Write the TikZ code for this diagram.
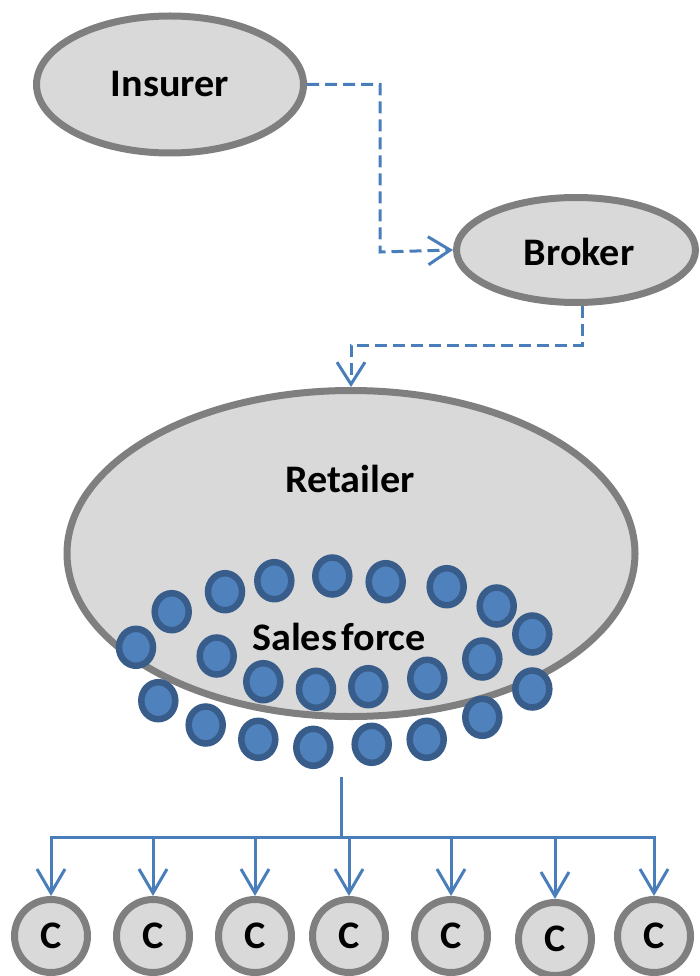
\documentclass[tikz,border=0pt]{standalone}
\usepackage{fontspec}
\setmainfont{Carlito}
\usetikzlibrary{shapes.geometric,arrows.meta}
\definecolor{shapefill}{HTML}{D9D9D9}
\definecolor{shapeline}{HTML}{7F7F7F}
\definecolor{linkblue}{HTML}{4A7EBB}
\definecolor{dotfill}{HTML}{4F81BD}
\definecolor{dotring}{HTML}{385D8A}
\newcommand{\lbl}[1]{\scalebox{1.03}[1]{\fontsize{39}{42}\selectfont\bfseries #1}}
\tikzset{
  party/.style={ellipse, draw=shapeline, fill=shapefill, line width=7pt, inner sep=0pt},
  client/.style={party, minimum width=73pt, minimum height=73pt},
  dashlink/.style={draw=linkblue, line width=3pt, dash pattern=on 12pt off 6pt,
    -{Straight Barb[length=22pt,width=28pt]}},
  treeline/.style={draw=linkblue, line width=3pt},
  treearrow/.style={treeline, -{Straight Barb[length=24pt,width=28pt]}},
  salesdot/.style={fill=dotfill, draw=dotring, line width=6.5pt}
}
\begin{document}
\begin{tikzpicture}[x=1pt,y=-1pt]
\useasboundingbox (0,0) rectangle (699,976);

% main parties
\node[party, minimum width=267pt, minimum height=137pt] (ins) at (170,84.5) {\lbl{Insurer}};
\node[party, minimum width=239pt, minimum height=105pt] (brk) at (576,250) {};
\node at (579,252) {\lbl{Broker}};
\node[party, minimum width=568pt, minimum height=326pt] (ret) at (351,553.5) {};
\node (rettext) at (350,479) {\lbl{Retailer}};

% sales force dots
\foreach \x/\y in {
  171.7/611.7, 225/591.7, 274.3/580.7, 332.3/576, 385.7/581.7, 446.7/586.7,
  496.7/606, 532.3/634, 136/647.3,
  216.7/656, 263.3/681.7, 316/689.3, 368.3/686.7, 427.3/678.3, 482.3/659,
  532.3/689,
  158.3/700.7, 205.7/725, 258.3/739.3, 313.3/747.3, 371.7/744.3, 426.7/739.3, 482.3/717.3}
  \path[salesdot] (\x,\y) ellipse [x radius=17pt, y radius=18.5pt];
\node (sales) at (339,637) {\lbl{Sales\hspace{-0.12em} force}};

% dashed links
\coordinate (k1) at (380,252);
\coordinate (k2) at (351,345);
\draw[dashlink] (ins.east) -| (k1) -- (brk.west);
\draw[dashlink] ([xshift=6pt]brk.south) |- (k2) -- (ret.north);

% customers
\foreach \i/\x/\y in {1/51/936, 2/153/936, 3/255/936, 4/349/936, 5/451/936, 6/555/939, 7/654/936}
  \node[client] (c\i) at (\x,\y) {\lbl{C}};

% distribution tree
\coordinate (stem) at (341,777);
\coordinate (bus) at (341,837);
\draw[treeline] (stem) -- (bus);
\foreach \i in {1,...,7}
  \draw[treearrow] (bus) -| (c\i.north);
\end{tikzpicture}
\end{document}
